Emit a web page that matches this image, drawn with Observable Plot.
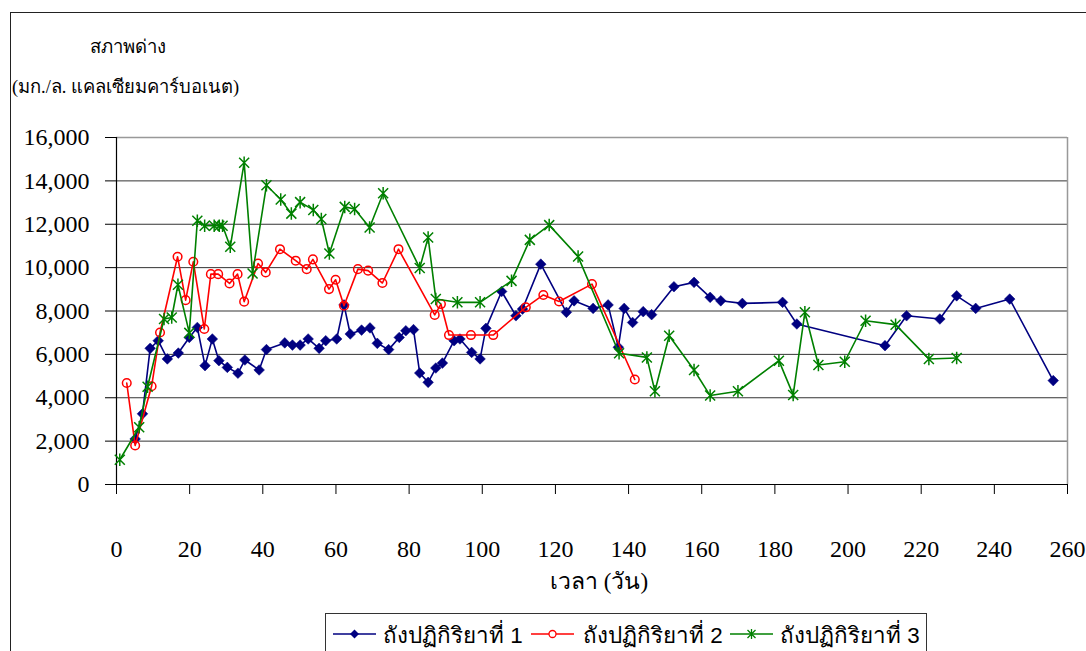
<!DOCTYPE html>
<html>
<head>
<meta charset="utf-8">
<script src="https://cdn.jsdelivr.net/npm/d3@7"></script>
<script src="https://cdn.jsdelivr.net/npm/@observablehq/plot@0.6"></script>
<style>
  html, body { margin: 0; padding: 0; background: #fff; overflow: hidden; }
  #page { position: relative; width: 1086px; height: 651px; overflow: hidden; background: #fff; }
  #frame { position: absolute; left: 10px; top: 12px; width: 1200px; height: 800px;
           border-left: 1px solid #222; border-top: 1.5px solid #222; }
  #chart { position: absolute; left: 0; top: 0; }
  #chart svg text { font-family: "Liberation Serif", "Times New Roman", serif; font-size: 24px; fill: #000; }
  .serif { font-family: "Liberation Serif", "Times New Roman", serif; color: #000; }
  .sans { font-family: "Liberation Sans", Arial, sans-serif; color: #000; }
  .abs { position: absolute; white-space: nowrap; line-height: 1; }
  #legend { position: absolute; left: 325px; top: 613px; width: 602px; height: 60px;
            border: 1px solid #333; box-sizing: border-box; }
  .key { position: absolute; top: 0; }
  .ltext { position: absolute; top: 11px; font-size: 22.4px; }
</style>
</head>
<body>
<div id="page">
  <div id="frame"></div>
  <div id="chart"></div>
  <div class="abs serif" style="left:90px; top:38px; font-size:18.5px;">สภาพด่าง</div>
  <div class="abs serif" style="left:12px; top:78px; font-size:18.4px;">(มก./ล. แคลเซียมคาร์บอเนต)</div>
  <div class="abs serif" style="left:550px; top:570px; font-size:23px;">เวลา (วัน)</div>
  <div id="legend"></div>
</div>
<script>
// Alkalinity (mg/L as CaCO3) of three reactor tanks over time (days)
const tank1Days = [5.1,7.1,9.2,11.4,13.9,16.9,19.9,22.1,24.2,26.2,28.0,30.3,33.2,35.1,39.0,41.0,46.0,48.1,50.2,52.4,55.4,57.2,60.2,62.2,63.9,67.0,69.3,71.3,74.4,77.3,79.1,81.2,82.9,85.2,87.3,89.1,92.3,93.9,97.1,99.4,101.0,105.3,109.2,111.0,116.0,123.0,125.1,130.3,134.4,137.2,138.8,141.1,144.0,146.3,152.4,157.9,162.3,165.2,171.1,182.1,186.0,210.1,216.0,225.1,229.7,234.9,244.2,256.1];
const tank1Values = [2100,3260,6280,6630,5790,6060,6780,7240,5480,6710,5710,5400,5130,5740,5280,6220,6530,6430,6430,6710,6280,6630,6710,8280,6940,7120,7220,6510,6220,6780,7090,7140,5140,4710,5370,5600,6630,6710,6090,5790,7200,8900,7780,8090,10160,7940,8470,8120,8280,6330,8120,7470,7970,7830,9120,9320,8630,8470,8350,8400,7400,6400,7780,7630,8700,8120,8550,4790];

const tank2Days = [2.8,5.1,9.6,11.9,16.7,18.9,21.0,24.0,25.8,27.8,30.9,33.1,34.9,38.7,40.8,44.7,49.0,52.0,53.7,58.1,59.9,62.2,66.0,68.8,72.7,77.1,87.0,88.7,90.9,96.9,103.0,111.9,116.7,121.0,130.0,141.7];
const tank2Values = [4680,1800,4530,7010,10500,8500,10270,7170,9700,9700,9270,9700,8430,10190,9780,10850,10320,9930,10380,9010,9440,8240,9930,9860,9290,10850,7820,8320,6890,6890,6890,8170,8740,8440,9240,4840];

const tank3Days = [0.9,6.2,8.5,13.0,15.1,16.8,19.9,22.1,24.1,26.7,28.1,29.0,31.1,34.9,37.2,41.0,44.9,47.8,50.2,53.8,56.0,58.2,62.4,65.1,69.2,72.9,82.9,85.2,87.3,93.2,99.4,108.0,113.0,118.3,126.2,137.4,145.0,147.2,151.1,157.9,162.3,169.9,181.1,185.0,188.2,191.9,199.1,204.8,213.0,222.1,229.7];
const tank3Values = [1140,2640,4510,7630,7700,9210,6990,12160,11930,11930,11930,11930,10960,14840,9730,13800,13140,12490,13020,12660,12240,10650,12800,12700,11850,13430,9980,11390,8550,8400,8400,9390,11280,11960,10510,6050,5860,4300,6860,5280,4100,4300,5710,4130,7940,5510,5660,7550,7370,5790,5830];

const seriesNames = ["ถังปฏิกิริยาที่ 1", "ถังปฏิกิริยาที่ 2", "ถังปฏิกิริยาที่ 3"];
const xTicks = [0,20,40,60,80,100,120,140,160,180,200,220,240,260];
const yTicks = [0,2000,4000,6000,8000,10000,12000,14000,16000];

const navy = "#000080", red = "#ff0000", green = "#008000";

const toRows = (days, values) => days.map((d, i) => ({day: d, value: values[i]}));
const tank1 = toRows(tank1Days, tank1Values);
const tank2 = toRows(tank2Days, tank2Values);
const tank3 = toRows(tank3Days, tank3Values);

// "*" marker: an X crossed by a vertical stroke
const asterisk = {
  draw(ctx, size) {
    const r = Math.sqrt(size / Math.PI);
    ctx.moveTo(-r, -r); ctx.lineTo(r, r);
    ctx.moveTo(r, -r); ctx.lineTo(-r, r);
    ctx.moveTo(0, -r * 1.25); ctx.lineTo(0, r * 1.25);
  }
};

const chart = Plot.plot({
  width: 1086,
  height: 600,
  marginLeft: 116,
  marginRight: 19,
  marginTop: 137,
  marginBottom: 116,
  style: {fontFamily: "Liberation Serif", fontSize: "24px", background: "transparent", color: "#000"},
  x: {domain: [0, 260]},
  y: {domain: [0, 16000]},
  marks: [
    Plot.gridY(yTicks.slice(1, -1), {stroke: "#000", strokeOpacity: 0.8, strokeWidth: 1}),
    Plot.ruleY([16000], {stroke: "#999", strokeWidth: 1.5}),
    Plot.ruleX([260], {stroke: "#999", strokeWidth: 1.5}),
    Plot.axisX({ticks: xTicks, tickSize: 10, tickPadding: 45, label: null, stroke: "#000"}),
    Plot.axisY({ticks: yTicks, tickSize: 11, tickPadding: 16, label: null, tickFormat: d3.format(","), stroke: "#000"}),
    Plot.ruleY([0], {stroke: "#000", strokeWidth: 1.2}),
    Plot.ruleX([0], {stroke: "#000", strokeWidth: 1.2}),

    Plot.line(tank1, {x: "day", y: "value", stroke: navy, strokeWidth: 1.6}),
    Plot.dot(tank1, {x: "day", y: "value", symbol: "diamond2", r: 4.8, fill: navy, stroke: navy, strokeWidth: 0.5}),

    Plot.line(tank2, {x: "day", y: "value", stroke: red, strokeWidth: 1.6}),
    Plot.dot(tank2, {x: "day", y: "value", symbol: "circle", r: 4.3, fill: "none", stroke: red, strokeWidth: 1.5}),

    Plot.line(tank3, {x: "day", y: "value", stroke: green, strokeWidth: 1.6}),
    Plot.dot(tank3, {x: "day", y: "value", symbol: asterisk, r: 5, fill: "none", stroke: green, strokeWidth: 1.5})
  ]
});
document.getElementById("chart").appendChild(chart);

// Legend: line sample with marker, then the series name
const legend = document.getElementById("legend");
const keyStyles = [
  {color: navy, marker: `<path d="M21.5,15.5 L26,20 L21.5,24.5 L17,20 Z" fill="${navy}"/>`},
  {color: red, marker: `<circle cx="21.5" cy="20" r="3.5" fill="#fff" stroke="${red}" stroke-width="1.3"/>`},
  {color: green, marker: `<path d="M17.5,16 L25.5,24 M25.5,16 L17.5,24 M21.5,15 L21.5,25" stroke="${green}" stroke-width="1.3"/>`}
];
const keyLeft = [7, 205, 404];
const textLeft = [57, 257, 454];
seriesNames.forEach((name, i) => {
  const k = keyStyles[i];
  const svg = document.createElement("div");
  svg.className = "key";
  svg.style.left = keyLeft[i] + "px";
  svg.innerHTML = `<svg width="44" height="40"><line x1="0" y1="20" x2="43" y2="20" stroke="${k.color}" stroke-width="1.5"/>${k.marker}</svg>`;
  legend.appendChild(svg);
  const t = document.createElement("div");
  t.className = "ltext abs sans";
  t.style.left = textLeft[i] + "px";
  t.textContent = name;
  legend.appendChild(t);
});
</script>
</body>
</html>
